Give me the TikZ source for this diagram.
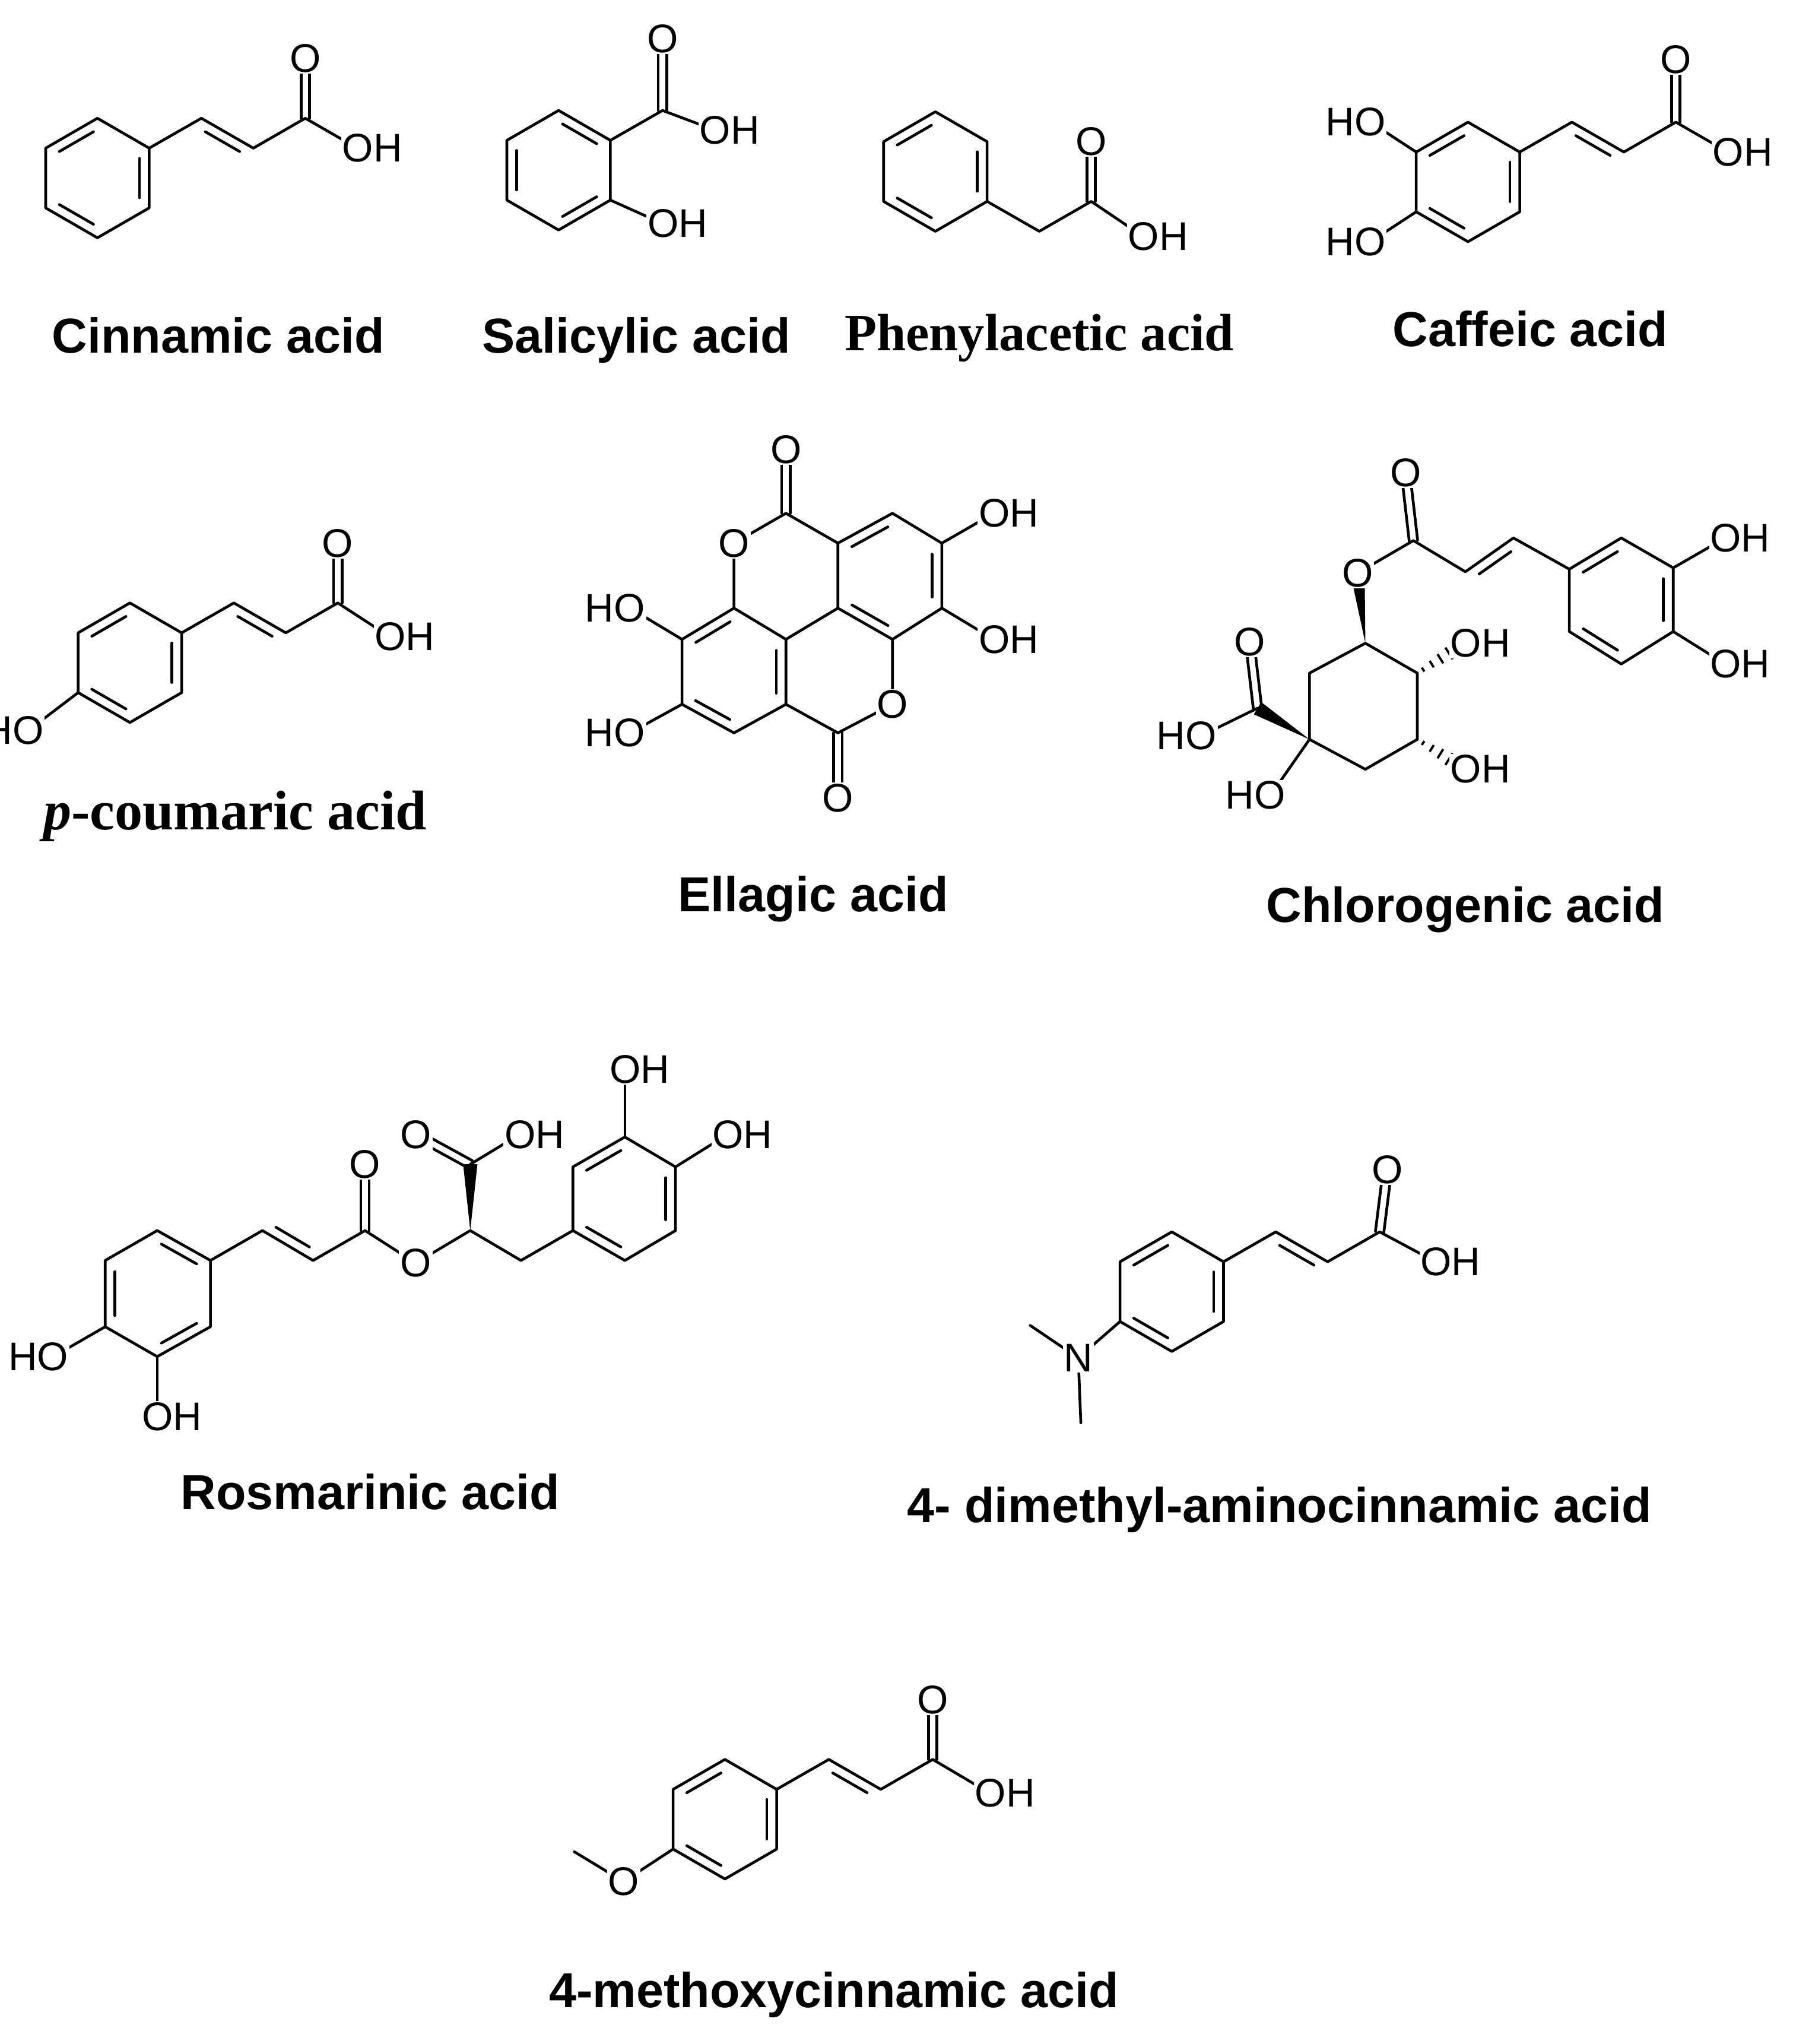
\documentclass[tikz,border=0pt]{standalone}
\usepackage{fontspec}
\setmainfont{Liberation Sans}
\newfontfamily\serifb{Liberation Serif}
\usetikzlibrary{calc}
\tikzset{
 bond/.style={line width=1.2pt,line cap=round,line join=round},
 lab/.style={font=\fontsize{17.5}{17.5}\selectfont,fill=white,inner sep=0.5pt},
 title/.style={font=\fontsize{21.5}{21.5}\selectfont\bfseries},
 stitle/.style={font=\fontsize{23}{23}\selectfont\serifb\bfseries}
}
\newcommand\hexring[3]{\coordinate (#1) at (#2);
 \foreach \k/\a in {1/-90,2/-30,3/30,4/90,5/150,6/210}{\coordinate (#1\k) at ($(#2)+(\a:#3)$);}
 \draw[bond] (#11)--(#12)--(#13)--(#14)--(#15)--(#16)--cycle;}
\newcommand\dbl[3]{%
 \coordinate (ft) at ($(#1)!(#3)!(#2)$);
 \coordinate (dv) at ($(ft)!0.15cm!(#3)-(ft)$);
 \draw[bond] ($(#1)!0.17!(#2)+(dv)$) -- ($(#2)!0.17!(#1)+(dv)$);}
\newcommand\dco[2]{%
 \draw[bond] ($(#1)!0.065cm!90:(#2)$) -- ($(#2)!0.065cm!-90:(#1)$);
 \draw[bond] ($(#1)!0.065cm!-90:(#2)$) -- ($(#2)!0.065cm!90:(#1)$);}
\newcommand\wdg[2]{\fill ($(#1)$) -- ($(#2)!0.11cm!90:(#1)$) -- ($(#2)!0.11cm!-90:(#1)$) -- cycle;}
\newcommand\hsh[2]{\foreach \t in {0.12,0.3,0.48,0.66}{%
 \pgfmathsetmacro\hw{0.02+0.13*\t}
 \coordinate (hA) at ($(#1)!\t!(#2)$);
 \draw[line width=1pt] ($(hA)!\hw cm!90:(#2)$) -- ($(hA)!\hw cm!-90:(#2)$);}}
\newcommand\atO[2]{\node[lab] (#1) at (#2) {O};}
\newcommand\atOH[2]{\node[lab,anchor=west,xshift=-0.255cm] (#1) at (#2) {OH};}
\newcommand\atHO[2]{\node[lab,anchor=east,xshift=0.255cm] (#1) at (#2) {HO};}
\begin{document}
\begin{tikzpicture}[x=0.02cm,y=-0.02cm]
\fill[white] (0,0) rectangle (1380,1573);
\useasboundingbox (0,0) rectangle (1380,1573);
\clip (0,0) rectangle (1380,1573);
% ---------- Cinnamic acid
\hexring{ra}{75,137}{46}
\dbl{ra2}{ra3}{ra}\dbl{ra4}{ra5}{ra}\dbl{ra6}{ra1}{ra}
\coordinate (a1) at (155,91); \coordinate (a2) at (195,114); \coordinate (a3) at (235,91);
\coordinate (aO) at (235,45); \coordinate (aOH) at (275,114);
\draw[bond] (ra2)--(a1)--(a2)--(a3)--(aOH); \dbl{a1}{a2}{ra2}\dco{a3}{aO}
\atO{aOl}{aO}\atOH{aOHl}{aOH}
\node[title] (tA) at (168,258) {Cinnamic acid};
% ---------- Salicylic acid
\hexring{rb}{430,131}{46}
\dbl{rb6}{rb5}{rb}\dbl{rb1}{rb2}{rb}\dbl{rb3}{rb4}{rb}
\coordinate (b1) at (510,85); \coordinate (bO) at (510,30); \coordinate (bOH) at (550,100); \coordinate (bOH2) at (510,172);
\draw[bond] (rb2)--(b1)--(bOH); \draw[bond] (rb3)--(bOH2); \dco{b1}{bO}
\atO{bOl}{bO}\atOH{bOHl}{bOH}\atOH{bOH2l}{bOH2}
\node[title] (tB) at (490,262) {Salicylic acid};
% ---------- Phenylacetic acid
\hexring{rc}{720,132}{46}
\dbl{rc2}{rc3}{rc}\dbl{rc4}{rc5}{rc}\dbl{rc6}{rc1}{rc}
\coordinate (c1) at (800,178); \coordinate (c2) at (840,155); \coordinate (cO) at (840,109); \coordinate (cOH) at (880,182);
\draw[bond] (rc3)--(c1)--(c2)--(cOH); \dco{c2}{cO}
\atO{cOl}{cO}\atOH{cOHl}{cOH}
\node[stitle] (tC) at (800,260) {Phenylacetic acid};
% ---------- Caffeic acid
\hexring{rd}{1130,140}{46}
\dbl{rd2}{rd3}{rd}\dbl{rd4}{rd5}{rd}\dbl{rd6}{rd1}{rd}
\coordinate (d1) at (1210,94); \coordinate (d2) at (1250,117); \coordinate (d3) at (1290,94);
\coordinate (dO) at (1290,46); \coordinate (dOH) at (1330,117);
\coordinate (dHO1) at (1055,94); \coordinate (dHO2) at (1055,186);
\draw[bond] (rd2)--(d1)--(d2)--(d3)--(dOH); \dbl{d1}{d2}{rd2}\dco{d3}{dO}
\draw[bond] (rd6)--(dHO1); \draw[bond] (rd5)--(dHO2);
\atO{dOl}{dO}\atOH{dOHl}{dOH}\atHO{dHO1l}{dHO1}\atHO{dHO2l}{dHO2}
\node[title] (tD) at (1178,253) {Caffeic acid};
% ---------- p-coumaric acid
\hexring{re}{100,510}{46}
\dbl{re2}{re3}{re}\dbl{re4}{re5}{re}\dbl{re6}{re1}{re}
\coordinate (e1) at (180,464); \coordinate (e2) at (220,487); \coordinate (e3) at (260,464);
\coordinate (eO) at (260,418); \coordinate (eOH) at (300,490); \coordinate (eHO) at (22,562);
\draw[bond] (re2)--(e1)--(e2)--(e3)--(eOH); \dbl{e1}{e2}{re2}\dco{e3}{eO}
\draw[bond] (re5)--(eHO);
\atO{eOl}{eO}\atOH{eOHl}{eOH}\atHO{eHOl}{eHO}
\node[stitle,font=\fontsize{24.5}{24.5}\selectfont\serifb\bfseries] (tE) at (181,628) {\textit{p}-coumaric acid};
% ---------- Ellagic acid
\coordinate (fOt) at (605,346); \coordinate (f1) at (605,395); \coordinate (fOl) at (565,418);
\coordinate (f2) at (645,418); \coordinate (f3) at (687,395); \coordinate (f4) at (725,418);
\coordinate (fOH1) at (765,395); \coordinate (f5) at (725,468); \coordinate (fOH2) at (765,492);
\coordinate (f6) at (687,492); \coordinate (f7) at (645,468); \coordinate (f8) at (605,492);
\coordinate (f9) at (565,468); \coordinate (fOr) at (687,542); \coordinate (f10) at (645,564);
\coordinate (fOb) at (645,614); \coordinate (f11) at (605,542); \coordinate (f12) at (565,564);
\coordinate (f13) at (525,542); \coordinate (fHO1) at (485,564); \coordinate (f14) at (525,492);
\coordinate (fHO2) at (485,468);
\coordinate (fcA) at (685,443); \coordinate (fcB) at (565,517);
\draw[bond] (fOl)--(f1)--(f2)--(f3)--(f4)--(f5)--(f6)--(f7)--(f2);
\draw[bond] (f4)--(fOH1); \draw[bond] (f5)--(fOH2);
\draw[bond] (fOl)--(f9)--(f8)--(f7); \draw[bond] (f6)--(fOr)--(f10)--(f11)--(f8);
\draw[bond] (f11)--(f12)--(f13)--(f14)--(f9); \draw[bond] (f13)--(fHO1); \draw[bond] (f14)--(fHO2);
\dco{f1}{fOt}\dco{f10}{fOb}
\dbl{f2}{f3}{fcA}\dbl{f4}{f5}{fcA}\dbl{f6}{f7}{fcA}
\dbl{f8}{f11}{fcB}\dbl{f12}{f13}{fcB}\dbl{f14}{f9}{fcB}
\atO{fOtl}{fOt}\atO{fOll}{fOl}\atO{fOrl}{fOr}\atO{fObl}{fOb}
\atOH{fOH1l}{fOH1}\atOH{fOH2l}{fOH2}\atHO{fHO1l}{fHO1}\atHO{fHO2l}{fHO2}
\node[title] (tF) at (626,692) {Ellagic acid};
% ---------- Chlorogenic acid
\coordinate (gO1) at (1082,364); \coordinate (g1) at (1088,416); \coordinate (gOe) at (1045,441);
\coordinate (g2) at (1128,440); \coordinate (g3) at (1165,414);
\coordinate (gr1) at (1208,438); \coordinate (gr2) at (1248,414); \coordinate (gr3) at (1288,437);
\coordinate (gr4) at (1288,486); \coordinate (gr5) at (1248,511); \coordinate (gr6) at (1208,486);
\coordinate (grc) at (1248,462);
\coordinate (gOH1) at (1328,414); \coordinate (gOH2) at (1328,511);
\coordinate (q1) at (1051,495); \coordinate (q2) at (1091,518); \coordinate (q3) at (1091,569);
\coordinate (q4) at (1051,592); \coordinate (q5) at (1008,569); \coordinate (q6) at (1008,518);
\coordinate (qOH1) at (1128,495); \coordinate (qOH2) at (1128,592);
\coordinate (qc) at (968,545); \coordinate (qO) at (962,494); \coordinate (qHO) at (925,566);
\coordinate (qHO2) at (978,612);
\draw[bond] (gOe)--(g1)--(g2)--(g3)--(gr1);
\draw[bond] (gr1)--(gr2)--(gr3)--(gr4)--(gr5)--(gr6)--cycle;
\dco{g1}{gO1}\dbl{g2}{g3}{gr1}\dbl{gr1}{gr2}{grc}\dbl{gr3}{gr4}{grc}\dbl{gr5}{gr6}{grc}
\draw[bond] (gr3)--(gOH1); \draw[bond] (gr4)--(gOH2);
\draw[bond] (q1)--(q2)--(q3)--(q4)--(q5)--(q6)--cycle;
\wdg{q1}{gOe}\wdg{q5}{qc}
\hsh{q2}{qOH1}\hsh{q3}{qOH2}
\dco{qc}{qO}\draw[bond] (qc)--(qHO); \draw[bond] (q5)--(qHO2);
\atO{gO1l}{gO1}\atO{gOel}{gOe}\atOH{gOH1l}{gOH1}\atOH{gOH2l}{gOH2}
\atOH{qOH1l}{qOH1}\atOH{qOH2l}{qOH2}\atO{qOl}{qO}\atHO{qHOl}{qHO}\atHO{qHO2l}{qHO2}
\node[title] (tG) at (1128,700) {Chlorogenic acid};
% ---------- Rosmarinic acid
\coordinate (ha) at (121,996);
\coordinate (a1r) at (121,947); \coordinate (a2r) at (162,970); \coordinate (a3r) at (162,1021);
\coordinate (a4r) at (121,1044); \coordinate (a5r) at (81,1021); \coordinate (a6r) at (81,970);
\coordinate (hHO) at (41,1044); \coordinate (hOH) at (121,1090);
\coordinate (h1) at (202,947); \coordinate (h2) at (241,970); \coordinate (h3) at (281,947);
\coordinate (hO1) at (281,896); \coordinate (hOe) at (320,972); \coordinate (h4) at (362,947);
\coordinate (h5) at (362,896); \coordinate (hO2) at (320,873); \coordinate (hOH2) at (400,873);
\coordinate (h6) at (401,970);
\coordinate (hb) at (481,922);
\coordinate (b1r) at (441,947); \coordinate (b2r) at (441,898); \coordinate (b3r) at (481,875);
\coordinate (b4r) at (520,898); \coordinate (b5r) at (520,947); \coordinate (b6r) at (481,970);
\coordinate (hOH3) at (481,823); \coordinate (hOH4) at (560,873);
\draw[bond] (a1r)--(a2r)--(a3r)--(a4r)--(a5r)--(a6r)--cycle;
\dbl{a1r}{a2r}{ha}\dbl{a3r}{a4r}{ha}\dbl{a5r}{a6r}{ha}
\draw[bond] (a5r)--(hHO); \draw[bond] (a4r)--(hOH);
\draw[bond] (a2r)--(h1)--(h2)--(h3)--(hOe)--(h4)--(h6)--(b1r); \dbl{h1}{h2}{h3}
\dco{h3}{hO1}\wdg{h4}{h5}\dco{h5}{hO2}\draw[bond] (h5)--(hOH2);
\draw[bond] (b1r)--(b2r)--(b3r)--(b4r)--(b5r)--(b6r)--cycle;
\dbl{b1r}{b6r}{hb}\dbl{b2r}{b3r}{hb}\dbl{b4r}{b5r}{hb}
\draw[bond] (b3r)--(hOH3); \draw[bond] (b4r)--(hOH4);
\atHO{hHOl}{hHO}\atOH{hOHl}{hOH}\atO{hO1l}{hO1}\atO{hOel}{hOe}\atO{hO2l}{hO2}
\atOH{hOH2l}{hOH2}\atOH{hOH3l}{hOH3}\atOH{hOH4l}{hOH4}
\node[title] (tH) at (285,1148) {Rosmarinic acid};
% ---------- 4-dimethyl-aminocinnamic acid
\hexring{ri}{902,994}{46}
\dbl{ri2}{ri3}{ri}\dbl{ri4}{ri5}{ri}\dbl{ri6}{ri1}{ri}
\coordinate (i1) at (982,948); \coordinate (i2) at (1022,971); \coordinate (i3) at (1062,948);
\coordinate (iO) at (1068,900); \coordinate (iOH) at (1105,971);
\coordinate (iN) at (830,1045); \coordinate (im1) at (793,1020); \coordinate (im2) at (832,1095);
\draw[bond] (ri2)--(i1)--(i2)--(i3)--(iOH); \dbl{i1}{i2}{ri2}\dco{i3}{iO}
\draw[bond] (ri5)--(iN); \draw[bond] (im1)--(iN)--(im2);
\atO{iOl}{iO}\atOH{iOHl}{iOH}\node[lab] (iNl) at (iN) {N};
\node[title] (tI) at (985,1162) {4- dimethyl-aminocinnamic acid};
% ---------- 4-methoxycinnamic acid
\hexring{rj}{558,1400}{46}
\dbl{rj2}{rj3}{rj}\dbl{rj4}{rj5}{rj}\dbl{rj6}{rj1}{rj}
\coordinate (j1) at (638,1354); \coordinate (j2) at (678,1377); \coordinate (j3) at (718,1354);
\coordinate (jO) at (718,1308); \coordinate (jOH) at (762,1380);
\coordinate (jOm) at (480,1448); \coordinate (jm) at (442,1425);
\draw[bond] (rj2)--(j1)--(j2)--(j3)--(jOH); \dbl{j1}{j2}{rj2}\dco{j3}{jO}
\draw[bond] (rj5)--(jOm)--(jm);
\atO{jOl}{jO}\atOH{jOHl}{jOH}\atO{jOml}{jOm}
\node[title] (tJ) at (642,1535) {4-methoxycinnamic acid};
\end{tikzpicture}
\end{document}
